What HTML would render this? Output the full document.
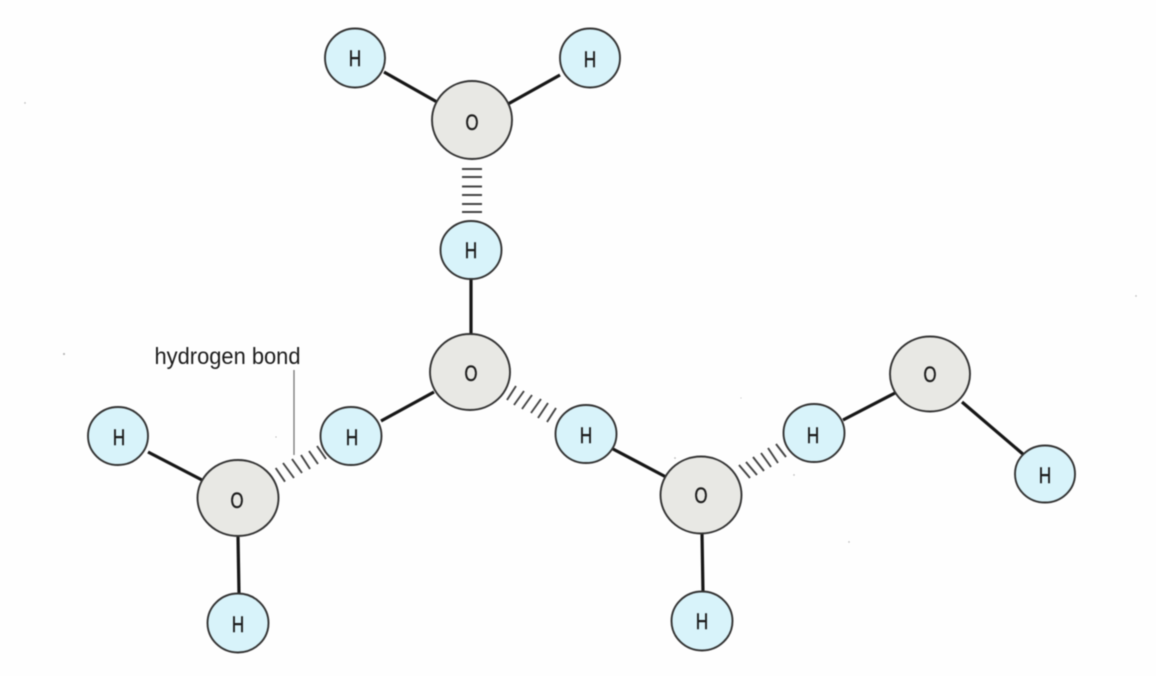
<!DOCTYPE html>
<html>
<head>
<meta charset="utf-8">
<style>
html,body{margin:0;padding:0;background:#fff;width:1156px;height:676px;overflow:hidden}
svg{display:block;filter:blur(.4px)}
text{font-family:"Liberation Sans",sans-serif;fill:#1c1c1c;text-anchor:middle}
.o{fill:#e8e8e4;stroke:#333;stroke-width:1.9}
.h{fill:#d8f3fa;stroke:#333;stroke-width:1.9}
.b{stroke:#161616;stroke-width:3.200;fill:none}
.x{stroke:#444;stroke-width:1.900;fill:none}
.ot text{font-size:22px;stroke:#1c1c1c;stroke-width:.45}
</style>
</head>
<body>
<svg width="1156" height="676" viewBox="0 0 1156 676" xmlns="http://www.w3.org/2000/svg">
<rect width="1156" height="676" fill="#fefefe"/>
<g class="b">
<path d="M384 72L437 102"/><path d="M560 75L508 104"/><path d="M471 278L471 334"/>
<path d="M381 421L434 392"/><path d="M148 452L202 480"/><path d="M238 537L239 594"/>
<path d="M613 449L666 477"/><path d="M843 420L895 393"/><path d="M962 402L1024 455"/>
<path d="M702 533L703 593"/>
</g>
<g class="x">
<path d="M462 169H482M462 177H482M462 186.500H482M462 195H482M462 204H482M462 212H482"/>
<path d="M275.700 468L285 481.700M283 463L294 478M292 459L302 473M301 455L310 469M309 451L318 464M317 446L326 459"/>
<path d="M507 400L516 386M514 405L524 391M522 409L532 395M531 413L541 399M538 418L548 403M547 422L556 408"/>
<path d="M739 465L750 478M746 462L757 475M753 457L764 471M761 453L771 467M768 448L778 463M776 444L786 457"/>
</g>
<path d="M294 370V455" stroke="#777" stroke-width="1.3" fill="none"/>
<text x="227.500" y="364" font-size="23" textLength="146" lengthAdjust="spacingAndGlyphs">hydrogen bond</text>
<g>
<ellipse class="o" cx="472" cy="120" rx="40" ry="39"/>
<ellipse class="o" cx="470" cy="372" rx="40" ry="38"/>
<ellipse class="o" cx="238" cy="498" rx="40.500" ry="38"/>
<ellipse class="o" cx="701" cy="495" rx="40.500" ry="38.500"/>
<ellipse class="o" cx="930" cy="374" rx="40" ry="37.500"/>
<ellipse class="h" cx="355" cy="58" rx="30" ry="29.500"/>
<ellipse class="h" cx="590" cy="58" rx="30" ry="29.500"/>
<ellipse class="h" cx="471" cy="250" rx="30.500" ry="29"/>
<ellipse class="h" cx="351" cy="436" rx="30.500" ry="29"/>
<ellipse class="h" cx="118" cy="436" rx="30" ry="29"/>
<ellipse class="h" cx="238" cy="623" rx="30.500" ry="29.500"/>
<ellipse class="h" cx="586" cy="434" rx="30.500" ry="29"/>
<ellipse class="h" cx="814" cy="433" rx="30.500" ry="29"/>
<ellipse class="h" cx="1045" cy="474" rx="30" ry="28.500"/>
<ellipse class="h" cx="702" cy="621" rx="30.500" ry="29.500"/>
</g>
<g class="ot">
<text x="472" y="130" textLength="13" lengthAdjust="spacingAndGlyphs">O</text>
<text x="471" y="381" textLength="13" lengthAdjust="spacingAndGlyphs">O</text>
<text x="237" y="508" textLength="13" lengthAdjust="spacingAndGlyphs">O</text>
<text x="701" y="503" textLength="13" lengthAdjust="spacingAndGlyphs">O</text>
<text x="930" y="382" textLength="13" lengthAdjust="spacingAndGlyphs">O</text>
<text x="355" y="66" textLength="12.500" lengthAdjust="spacingAndGlyphs">H</text>
<text x="590" y="67" textLength="12.500" lengthAdjust="spacingAndGlyphs">H</text>
<text x="471" y="258" textLength="12.500" lengthAdjust="spacingAndGlyphs">H</text>
<text x="352" y="445" textLength="12.500" lengthAdjust="spacingAndGlyphs">H</text>
<text x="119" y="445" textLength="12.500" lengthAdjust="spacingAndGlyphs">H</text>
<text x="238" y="632" textLength="12.500" lengthAdjust="spacingAndGlyphs">H</text>
<text x="586" y="443" textLength="12.500" lengthAdjust="spacingAndGlyphs">H</text>
<text x="813" y="443" textLength="12.500" lengthAdjust="spacingAndGlyphs">H</text>
<text x="1045" y="483" textLength="12.500" lengthAdjust="spacingAndGlyphs">H</text>
<text x="702" y="629" textLength="12.500" lengthAdjust="spacingAndGlyphs">H</text>
</g>
<g fill="#aaa">
<circle cx="64" cy="354" r="1"/><circle cx="25" cy="103" r=".7"/><circle cx="675" cy="458" r=".8"/>
<circle cx="794" cy="475" r=".7"/><circle cx="849" cy="542" r=".7"/><circle cx="276" cy="437" r=".6"/>
<circle cx="1136" cy="296" r=".7"/><circle cx="741" cy="398" r=".5"/>
</g>
</svg>
</body>
</html>
